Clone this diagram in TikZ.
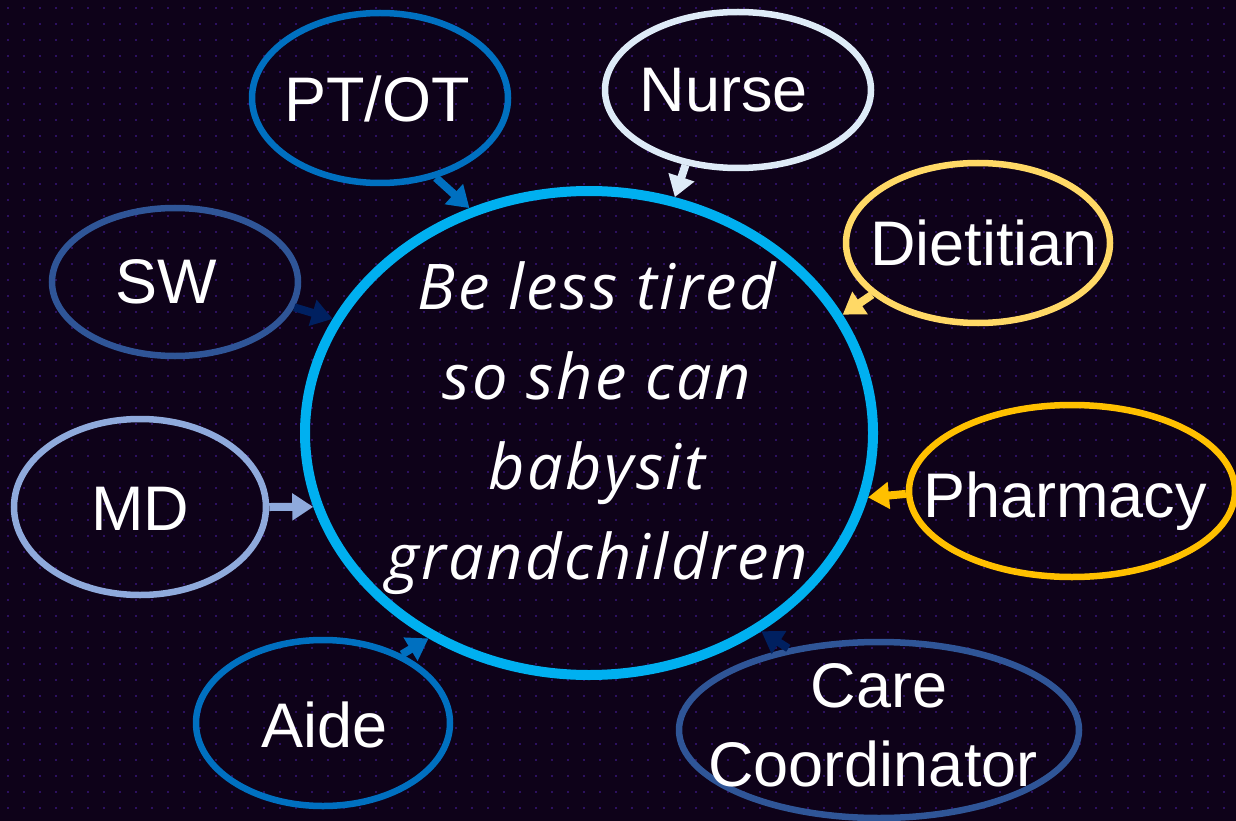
\documentclass[tikz,border=0pt]{standalone}
\usepackage{fontspec}
\setmainfont{Liberation Sans}
\newfontfamily\goalfont[LetterSpace=4]{Open Sans}
\usetikzlibrary{shapes.geometric,arrows.meta}
\definecolor{bg}{HTML}{0E0219}
\definecolor{dotc}{HTML}{2C1060}
\definecolor{cgoal}{HTML}{00B0F0}
\definecolor{cblue}{HTML}{0070C0}
\definecolor{clight}{HTML}{DEEBF7}
\definecolor{cgold}{HTML}{FFD966}
\definecolor{cmid}{HTML}{2F5597}
\definecolor{cpale}{HTML}{8FAADC}
\definecolor{corange}{HTML}{FFC000}
\definecolor{cnavy}{HTML}{002060}
\tikzset{
  oval/.style={ellipse, draw, line width=6.5pt, inner sep=0pt},
  lbl/.style={text=white, font=\fontsize{63}{72}\selectfont, inner sep=0pt, anchor=base},
  goaltxt/.style={text=white, font=\goalfont\itshape\fontsize{63}{90}\selectfont, align=center, inner sep=0pt},
  blockarr/.style={line width=8pt, -{Triangle[width=26pt,length=21pt]}},
}
\begin{document}
\begin{tikzpicture}[x=1pt,y=-1pt]
\useasboundingbox (0,0) rectangle (1236,821);
\fill[bg] (0,0) rectangle (1236,821);
\begin{scope}
\clip (0,0) rectangle (1236,821);
\foreach \i in {0,...,77}{
  \foreach \j in {0,...,51}{
    \fill[dotc] (\i*16+7,\j*16+7) rectangle ++(2,2);
  }
}
\end{scope}
% goal ellipse
\node[ellipse, draw=cgoal, line width=10pt, inner sep=0pt, minimum width=568pt, minimum height=484pt] (goal) at (589,433) {};
\node[goaltxt] (goaltext) at (597,428) {Be less tired\\so she can\\babysit\\grandchildren};
% team ellipses
\node[oval, draw=cblue, minimum width=256pt, minimum height=170pt] (ptot) at (380,98) {};
\node[oval, draw=clight, minimum width=266pt, minimum height=156pt] (nurse) at (738,90) {};
\node[oval, draw=cgold, minimum width=264pt, minimum height=160pt] (diet) at (978,243) {};
\node[oval, draw=cmid, minimum width=246pt, minimum height=148pt] (sw) at (175,282) {};
\node[oval, draw=cpale, minimum width=252pt, minimum height=176pt] (md) at (140,507) {};
\node[oval, draw=corange, minimum width=326pt, minimum height=172pt] (pharm) at (1072,491) {};
\node[oval, draw=cblue, minimum width=254pt, minimum height=166pt] (aide) at (323,723) {};
\node[oval, draw=cmid, minimum width=400pt, minimum height=176pt] (care) at (879,730) {};
% labels
\node[lbl] (tptot) at (377,122) {PT/OT};
\node[lbl] (tnurse) at (724,112) {Nurse};
\node[lbl] (tdiet) at (984,265) {Dietitian};
\node[lbl] (tsw) at (166,303) {SW};
\node[lbl] (tmd) at (140,530) {MD};
\node[lbl] (tpharm) at (1065,517) {Pharmacy};
\node[lbl] (taide) at (325,747) {Aide};
\node[lbl] (tcare) at (879,707) {Care};
\node[lbl] (tcoord) at (873,786) {Coordinator};
% arrows
\draw[blockarr, cblue] (ptot.-55) -- (goal.118);
\draw[blockarr, clight] (nurse.235) -- (goal.70);
\draw[blockarr, cgold] (diet.206) -- (goal.25);
\draw[blockarr, cnavy] (sw.-12) -- (goal.156);
\draw[blockarr, cpale] (md.0) -- (goal.195);
\draw[blockarr, corange] (pharm.181) -- (goal.-13);
\draw[blockarr, cblue] (aide.41) -- (goal.232);
\draw[blockarr, cnavy] (care.138) -- (goal.-49);
\end{tikzpicture}
\end{document}
